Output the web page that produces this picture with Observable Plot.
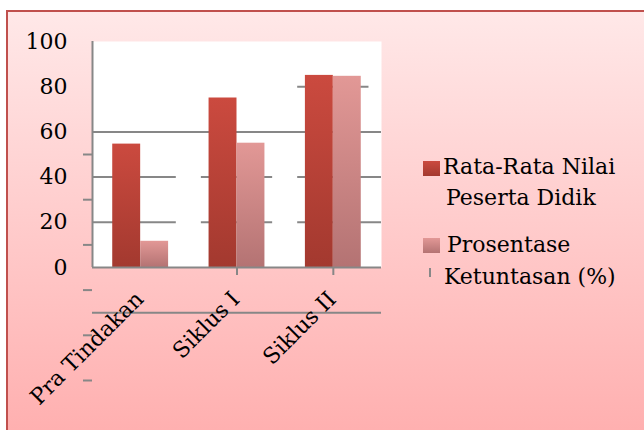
<!DOCTYPE html>
<html><head><meta charset="utf-8">
<script src="https://cdn.jsdelivr.net/npm/d3@7"></script>
<script src="https://cdn.jsdelivr.net/npm/@observablehq/plot@0.6"></script>
<style>
html,body{margin:0;padding:0;background:#fff;width:644px;height:430px;overflow:hidden;position:relative;}
#bg{position:absolute;left:6px;top:10px;width:660px;height:440px;border-left:2px solid #c0504d;border-top:2px solid #c0504d;background:linear-gradient(#ffe8e8,#ffadad);}
#chart{position:absolute;left:0;top:0;}
.leg{position:absolute;font-family:"DejaVu Serif";font-size:22px;line-height:22px;color:#000;white-space:nowrap;}
.sw{position:absolute;width:17px;height:15px;}
</style></head><body>
<div id="bg"></div>
<div id="chart"></div>
<div id="legend"></div>
<script>
const categories = ["Pra Tindakan", "Siklus I", "Siklus II"];
const rataRata = [54.6, 75, 85];
const ketuntasan = [11.6, 55, 84.6];
const seriesNames = ["Rata-Rata Nilai\nPeserta Didik", "Prosentase\nKetuntasan (%)"];
const yTicks = [0, 20, 40, 60, 80, 100];

const half = 0.29;   // bar width in category units
const reach = 0.37;  // gridline reach around each group

const dark = categories.map((c, i) => ({c, i, v: rataRata[i]}));
const light = categories.map((c, i) => ({c, i, v: ketuntasan[i]}));

// gridline segments (as rendered in the original)
const grid = [];
for (const g of [20, 40]) categories.forEach((c, i) => grid.push({y: g, x1: i === 0 ? -0.5 : i - reach, x2: i === categories.length - 1 ? 2.5 : i + reach}));
grid.push({y: 60, x1: -0.5, x2: 2.5});
grid.push({y: 80, x1: 2 - reach, x2: 2 + reach});
grid.push({y: -20, x1: -0.5, x2: 2.5});

const gray = "#878787";

const chart = Plot.plot({
  width: 644, height: 430,
  marginLeft: 92, marginRight: 263, marginTop: 41, marginBottom: 163,
  style: {background: "transparent", fontFamily: "DejaVu Serif", fontSize: "22px", color: "black", overflow: "visible"},
  x: {domain: [-0.5, 2.5], axis: null},
  y: {domain: [0, 100], axis: null},
  marks: [
    Plot.frame({fill: "white", stroke: null}),
    Plot.ruleY(grid, {y: "y", x1: "x1", x2: "x2", stroke: gray, strokeWidth: 2}),
    Plot.rect(dark, {x1: d => d.i - half, x2: d => d.i, y1: 0, y2: "v", fill: "url(#gDark)"}),
    Plot.rect(light, {x1: d => d.i, x2: d => d.i + half, y1: 0, y2: "v", fill: "url(#gLight)"}),
    Plot.ruleX([-0.5], {y1: 0, y2: 100, stroke: gray, strokeWidth: 2}),
    Plot.ruleY([0], {stroke: gray, strokeWidth: 2}),
    Plot.axisY({ticks: [50, 30, 10, -10, -30, -50], tickSize: 9, tickFormat: () => "", stroke: gray, strokeWidth: 2}),
    Plot.axisY({ticks: yTicks, tickSize: 0, tickPadding: 25, fontSize: 22, fill: "black"}),
    Plot.axisX({ticks: [1, 2], tickSize: 8, tickFormat: () => "", stroke: gray, strokeWidth: 2}),
    Plot.text(categories, {x: (d, i) => i, frameAnchor: "bottom", text: d => d, rotate: -45, textAnchor: "end", dy: 33, dx: 4, fontSize: 22, fill: "black"})
  ]
});

// gradients
const ns = "http://www.w3.org/2000/svg";
const defs = document.createElementNS(ns, "defs");
function grad(id, c1, c2) {
  const g = document.createElementNS(ns, "linearGradient");
  g.setAttribute("id", id); g.setAttribute("x1", "0"); g.setAttribute("y1", "0"); g.setAttribute("x2", "0"); g.setAttribute("y2", "1");
  [[0, c1], [1, c2]].forEach(([o, c]) => {
    const s = document.createElementNS(ns, "stop");
    s.setAttribute("offset", o); s.setAttribute("stop-color", c); g.appendChild(s);
  });
  defs.appendChild(g);
}
grad("gDark", "#cb4a3f", "#a3392f");
grad("gLight", "#e29896", "#b47373");
chart.insertBefore(defs, chart.firstChild);
document.getElementById("chart").appendChild(chart);

// legend
const legend = document.getElementById("legend");
const swatches = ["linear-gradient(#cb4a3f,#a3392f)", "linear-gradient(#e29896,#b47373)"];
const legPos = [
  {sw: [423, 161], lines: [[443, 156], [446, 187]]},
  {sw: [423, 238], lines: [[447, 234], [444, 266]]}
];
seriesNames.forEach((name, k) => {
  const s = document.createElement("div");
  s.className = "sw"; s.style.left = legPos[k].sw[0] + "px"; s.style.top = legPos[k].sw[1] + "px"; s.style.background = swatches[k];
  legend.appendChild(s);
  name.split("\n").forEach((t, j) => {
    const d = document.createElement("div");
    d.className = "leg"; d.textContent = t;
    d.style.left = legPos[k].lines[j][0] + "px"; d.style.top = legPos[k].lines[j][1] + "px";
    legend.appendChild(d);
  });
});
const mk = document.createElement("div");
mk.style.cssText = "position:absolute;left:429px;top:268px;width:2px;height:9px;background:#888;";
legend.appendChild(mk);
</script>
</body></html>
